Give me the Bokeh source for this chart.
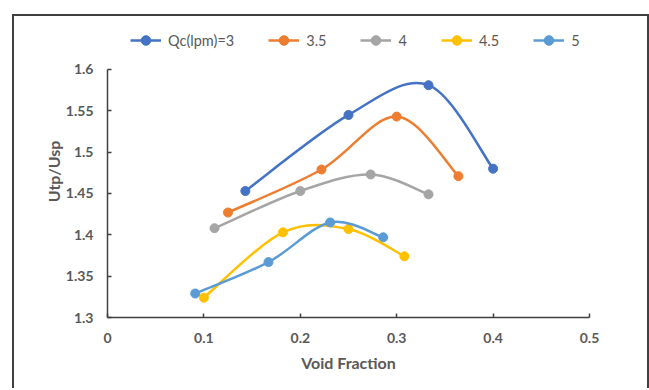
import numpy as np
from bokeh.plotting import figure
from bokeh.models import Range1d, FixedTicker, Legend, LegendItem, Spacer
from bokeh.layouts import column, row
from bokeh.embed import file_html
from bokeh.resources import INLINE

# ---- data ----
series_names = ["Qc(lpm)=3", "3.5", "4", "4.5", "5"]
x_q30 = [0.143, 0.250, 0.333, 0.400]
y_q30 = [1.453, 1.545, 1.581, 1.480]
x_q35 = [0.125, 0.222, 0.300, 0.364]
y_q35 = [1.427, 1.479, 1.543, 1.471]
x_q40 = [0.111, 0.200, 0.273, 0.333]
y_q40 = [1.408, 1.453, 1.473, 1.449]
x_q45 = [0.100, 0.182, 0.250, 0.308]
y_q45 = [1.324, 1.403, 1.407, 1.374]
x_q50 = [0.091, 0.167, 0.231, 0.286]
y_q50 = [1.329, 1.367, 1.415, 1.397]
colors = ["#4472C4", "#ED7D31", "#A5A5A5", "#FFC000", "#5B9BD5"]

x_ticks = [0, 0.1, 0.2, 0.3, 0.4, 0.5]
x_tick_labels = ["0", "0.1", "0.2", "0.3", "0.4", "0.5"]
y_ticks = [1.3, 1.35, 1.4, 1.45, 1.5, 1.55, 1.6]
y_tick_labels = ["1.3", "1.35", "1.4", "1.45", "1.5", "1.55", "1.6"]

xs_all = [x_q30, x_q35, x_q40, x_q45, x_q50]
ys_all = [y_q30, y_q35, y_q40, y_q45, y_q50]


def smooth_segments(xs, ys):
    P = np.column_stack([xs, ys]).astype(float)
    ext = np.vstack([P[0], P, P[-1]])
    out = {k: [] for k in ["x0", "y0", "x1", "y1", "cx0", "cy0", "cx1", "cy1"]}
    for i in range(len(P) - 1):
        p0, p1, p2, p3 = ext[i], ext[i + 1], ext[i + 2], ext[i + 3]
        c0 = p1 + (p2 - p0) / 6.0
        c1 = p2 - (p3 - p1) / 6.0
        out["x0"].append(p1[0]); out["y0"].append(p1[1])
        out["x1"].append(p2[0]); out["y1"].append(p2[1])
        out["cx0"].append(c0[0]); out["cy0"].append(c0[1])
        out["cx1"].append(c1[0]); out["cy1"].append(c1[1])
    return out


FONT = "Lato"
GRAY = "#595959"

# y range extends above 1.6 to leave room for the legend inside the frame;
# the axis line itself is bounded to 1.3..1.6
p = figure(width=633, height=372, output_backend="svg", toolbar_location=None,
           x_range=Range1d(0, 0.5), y_range=Range1d(1.3, 1.6532),
           min_border_left=93, min_border_right=58, min_border_top=9, min_border_bottom=71)
p.outline_line_color = None
p.xgrid.visible = False
p.ygrid.visible = False
p.background_fill_color = "white"
p.border_fill_color = "white"

items = []
for name, xs, ys, c in zip(series_names, xs_all, ys_all, colors):
    seg = smooth_segments(xs, ys)
    rb = p.bezier(source=seg, x0="x0", y0="y0", x1="x1", y1="y1",
                  cx0="cx0", cy0="cy0", cx1="cx1", cy1="cy1",
                  line_color=c, line_width=2.5)
    rs = p.scatter(xs, ys, size=9, marker="circle", fill_color=c, line_color=c)
    items.append(LegendItem(label=name, renderers=[rb, rs]))

for ax in (p.xaxis[0], p.yaxis[0]):
    ax.axis_line_color = "#404040"
    ax.axis_line_width = 1.5
    ax.major_tick_line_color = "#404040"
    ax.major_tick_line_width = 1.5
    ax.major_tick_in = 4
    ax.major_tick_out = 0
    ax.minor_tick_line_color = None
    ax.major_label_text_font = FONT
    ax.major_label_text_font_size = "14px"
    ax.major_label_text_font_style = "bold"
    ax.major_label_text_color = GRAY
    ax.axis_label_text_font = FONT
    ax.axis_label_text_font_size = "16px"
    ax.axis_label_text_font_style = "bold"
    ax.axis_label_text_color = GRAY

p.xaxis.ticker = FixedTicker(ticks=x_ticks)
p.yaxis.ticker = FixedTicker(ticks=y_ticks)
p.yaxis.bounds = (1.3, 1.6)
p.xaxis.major_label_overrides = dict(zip(x_ticks, x_tick_labels))
p.yaxis.major_label_overrides = dict(zip(y_ticks, y_tick_labels))
p.xaxis.axis_label = "Void Fraction"
p.yaxis.axis_label = "Utp/Usp"
p.xaxis.major_label_standoff = 15
p.yaxis.major_label_standoff = 14
p.xaxis.axis_label_standoff = 7
p.yaxis.axis_label_standoff = 0

legend = Legend(items=items, orientation="horizontal", location=(23, 265),
                glyph_width=31, glyph_height=24, label_standoff=7, spacing=34,
                label_width=0, padding=0, margin=0,
                border_line_color=None, background_fill_alpha=0,
                label_text_font=FONT, label_text_font_size="14.5px", label_text_color=GRAY)
p.add_layout(legend, "center")

# chart-area border: left, top and right edges (bottom lies below the window)
boxed = column(p, styles={"border-left": "2px solid #404040",
                          "border-top": "2px solid #404040",
                          "border-right": "2px solid #404040"})
layout = column(Spacer(height=14), row(Spacer(width=12), boxed))

open("out.html", "w").write(file_html(layout, INLINE))
